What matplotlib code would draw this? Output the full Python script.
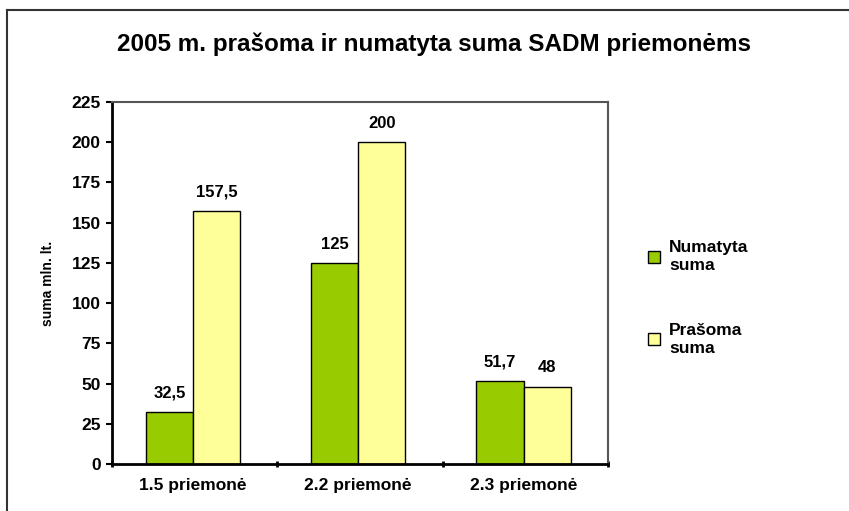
import matplotlib.pyplot as plt
from matplotlib.patches import Patch
from matplotlib.lines import Line2D

plt.rcParams['font.family'] = ['Liberation Sans', 'DejaVu Sans']

# Duomenys
kategorijos = ['1.5 priemonė', '2.2 priemonė', '2.3 priemonė']
numatyta = [32.5, 125, 51.7]
prasoma = [157.5, 200, 48]
serijos = ['Numatyta\nsuma', 'Prašoma\nsuma']
spalvos = ['#99CC00', '#FFFF99']

def etikete(v):
    s = ('%g' % v).replace('.', ',')
    return s

fig = plt.figure(figsize=(8.49, 5.11), dpi=100)
ax = fig.add_axes([0.1319, 0.092, 0.584, 0.7085])

plotis = 0.285
centrai = [i + 0.49 for i in range(len(kategorijos))]
x1 = [c - plotis / 2 for c in centrai]
x2 = [c + plotis / 2 for c in centrai]

b1 = ax.bar(x1, numatyta, width=plotis, color=spalvos[0], edgecolor='black', linewidth=1)
b2 = ax.bar(x2, prasoma, width=plotis, color=spalvos[1], edgecolor='black', linewidth=1)

for bars, vals in ((b1, numatyta), (b2, prasoma)):
    for b, v in zip(bars, vals):
        ax.text(b.get_x() + b.get_width() / 2, v + 7, etikete(v), ha='center', va='bottom',
                fontsize=12, fontweight='bold')

ax.set_xlim(0, 3)
ax.set_ylim(0, 225)
ax.set_yticks(range(0, 226, 25))
ax.set_xticks([0, 1, 2, 3])
ax.set_xticklabels([])
ax.set_xticks(centrai, minor=True)
ax.set_xticklabels(kategorijos, minor=True, fontsize=12.5, fontweight='bold')
ax.tick_params(axis='x', which='minor', length=0, pad=10)
ax.tick_params(axis='x', which='major', direction='inout', length=5, width=2)
ax.tick_params(axis='y', direction='out', length=4, width=1.5, labelsize=12.5, pad=4)
for lab in ax.get_yticklabels():
    lab.set_fontweight('bold')

ax.spines['left'].set_linewidth(2)
ax.spines['bottom'].set_linewidth(2)
ax.spines['top'].set_color('#555555')
ax.spines['right'].set_color('#555555')
ax.spines['top'].set_linewidth(1.5)
ax.spines['right'].set_linewidth(1.5)

ax.set_ylabel('suma mln. lt.', fontsize=10, fontweight='bold', labelpad=12)

fig.text(0.511, 0.913, '2005 m. prašoma ir numatyta suma SADM priemonėms',
         ha='center', va='center', fontsize=17.5, fontweight='bold')

rankenos = [Patch(facecolor=spalvos[0], edgecolor='black'),
            Patch(facecolor=spalvos[1], edgecolor='black')]
fig.legend(rankenos, serijos, loc='upper left', bbox_to_anchor=(0.745, 0.56),
           frameon=False, handlelength=0.7, handleheight=0.7, handletextpad=0.5,
           labelspacing=2.9, prop={'weight': 'bold', 'size': 12.5})

# remelis aplink paveiksla
fig.add_artist(Line2D([0.008, 1.0], [0.980, 0.980], color='#333333', linewidth=1.5,
                      transform=fig.transFigure))
fig.add_artist(Line2D([0.008, 0.008], [0.0, 0.980], color='#333333', linewidth=1.5,
                      transform=fig.transFigure))

fig.savefig('out.png', dpi=100)
